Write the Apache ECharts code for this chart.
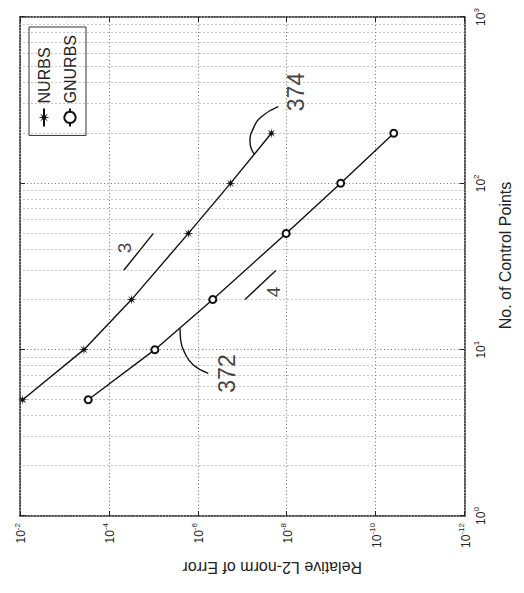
<!DOCTYPE html>
<html><head><meta charset="utf-8">
<script src="https://cdn.jsdelivr.net/npm/echarts@6/dist/echarts.min.js"></script>
<style>
html,body{margin:0;padding:0;width:524px;height:593px;overflow:hidden;background:#fff;}
#chart{position:absolute;left:0;top:0;width:593px;height:524px;transform-origin:0 0;transform:translate(0,593px) rotate(-90deg);}
</style></head><body><div id="chart"></div>
<script>
// ---- data ----
const controlPoints = [5, 10, 20, 50, 100, 200];
const nurbsError = [8.7e-3, 3.65e-4, 3.1e-5, 1.63e-6, 1.84e-7, 2.21e-8];
const gnurbsError = [2.92e-4, 9.25e-6, 4.6e-7, 1.03e-8, 6.1e-10, 3.9e-11];
const seriesNames = ['NURBS', 'GNURBS'];
const xTickValues = [1, 10, 100, 1000];
const yTickValues = [1e-12, 1e-10, 1e-8, 1e-6, 1e-4, 1e-2];
const xMinorGrid = [2,3,4,5,6,7,8,9,20,30,40,50,60,70,80,90,200,300,400,500,600,700,800,900];
const slope3Line = [[30, 4.63e-5], [50, 1.0e-5]];
const slope4Line = [[20, 8.7e-8], [30, 1.73e-8]];
const leader372 = [[13.45, 2.51e-6], [11.43, 2.43e-6], [9.51, 1.94e-6], [8.09, 1.26e-6], [7.21, 5.8e-7]];
const leader374 = [[150, 5.4e-8], [178, 6.7e-8], [214, 5.64e-8], [252, 3.65e-8], [289, 1.55e-8]];
const annotationTexts = ['372', '374', '3', '4'];
const annotationPoints = [[7.19, 2.26e-7], [354, 6.18e-9], [40.9, 4.35e-5], [22.2, 2.03e-8]];
const annotationSizes = [23, 23, 19, 19];

const pair = (xs, ys) => xs.map((x, i) => [x, ys[i]]);
const supFmt = v => '{b|10}{s|' + Math.round(Math.log10(v)) + '}';
const richLab = {
  b: {fontSize: 12, lineHeight: 14, padding: [6, 0, 0, 0], verticalAlign: 'bottom', color: '#222', fontFamily: 'Liberation Sans'},
  s: {fontSize: 8, lineHeight: 10, verticalAlign: 'top', color: '#222', fontFamily: 'Liberation Sans'}
};
const frameLine = {show: true, lineStyle: {color: '#222', width: 1.5, type: [1.5, 1.5]}};
const gridLine = {show: true, lineStyle: {color: '#6f6f6f', width: 1, type: [1, 2.5]}};
const tickIn = {show: true, inside: true, length: 5, lineStyle: {color: '#222'}};
const narrow = "'Liberation Sans Narrow', 'Arial Narrow', 'Liberation Sans', sans-serif";
const asterisk = 'path://M0,-10 L1.2,-2.9 L7.1,-7.1 L2.9,-1.2 L10,0 L2.9,1.2 L7.1,7.1 L1.2,2.9 L0,10 L-1.2,2.9 L-7.1,7.1 L-2.9,1.2 L-10,0 L-2.9,-1.2 L-7.1,-7.1 L-1.2,-2.9 Z';

const chart = echarts.init(document.getElementById('chart'), null, {renderer: 'svg'});
const annoLine = (data, smooth) => ({
  type: 'line', data: data, smooth: smooth, symbol: 'none', silent: true, z: 4,
  lineStyle: {color: '#111', width: 1.4}, tooltip: {show: false}
});
chart.setOption({
  animation: false,
  backgroundColor: '#fff',
  textStyle: {fontFamily: 'Liberation Sans', color: '#222'},
  grid: {left: 77, right: 17, top: 20, bottom: 59.5},
  legend: {
    data: seriesNames, orient: 'vertical', right: 27, top: 29,
    padding: [7, 8, 8, 8], itemWidth: 18, itemHeight: 14, itemGap: 10,
    borderColor: '#333', borderWidth: 1, backgroundColor: '#fff',
    textStyle: {fontSize: 16, color: '#222', fontFamily: 'Liberation Sans'}
  },
  xAxis: [{
    type: 'log', min: 1, max: 1000, position: 'bottom',
    name: 'No. of Control Points', nameLocation: 'middle', nameGap: 33,
    nameTextStyle: {fontSize: 16, color: '#222', padding: [0, 0, 0, 22]},
    axisLine: frameLine, axisTick: tickIn, splitLine: gridLine,
    axisLabel: {formatter: supFmt, rich: richLab, margin: 8,
      customValues: xTickValues}
  }, {
    type: 'log', min: 1, max: 1000, position: 'top',
    axisLine: frameLine, axisTick: tickIn, axisLabel: {show: false}, splitLine: {show: false}
  }],
  yAxis: [{
    type: 'log', min: 1e-12, max: 1e-2, interval: 2, position: 'left',
    name: 'Relative L2-norm of Error', nameLocation: 'middle', nameGap: 43,
    nameTextStyle: {fontSize: 16, color: '#222', padding: [0, 60, 0, 0]},
    axisLine: frameLine, axisTick: tickIn, splitLine: gridLine,
    axisLabel: {formatter: supFmt, rich: richLab, margin: 7}
  }, {
    type: 'log', min: 1e-12, max: 1e-2, interval: 2, position: 'right',
    axisLine: frameLine, axisTick: tickIn, axisLabel: {show: false}, splitLine: {show: false}
  }],
  series: [
    {
      name: 'minor-grid', type: 'line', data: [], silent: true, z: 1,
      markLine: {silent: true, symbol: 'none', label: {show: false},
        lineStyle: {color: '#8a8a8a', width: 1, type: [1, 3]},
        data: xMinorGrid.map(v => ({xAxis: v}))}
    },
    {
      name: seriesNames[0], type: 'line', data: pair(controlPoints, nurbsError), z: 5,
      symbol: asterisk, symbolSize: 10,
      lineStyle: {color: '#111', width: 1.4}, itemStyle: {color: '#111'}
    },
    {
      name: seriesNames[1], type: 'line', data: pair(controlPoints, gnurbsError), z: 5,
      symbol: 'emptyCircle', symbolSize: 7,
      lineStyle: {color: '#111', width: 1.4}, itemStyle: {color: '#111', borderWidth: 2}
    },
    annoLine(slope3Line, false),
    annoLine(slope4Line, false),
    annoLine(leader372, 0.5),
    annoLine(leader374, 0.5),
    {
      type: 'scatter', silent: true, z: 6, symbolSize: 0.1, itemStyle: {color: 'rgba(0,0,0,0)'},
      data: annotationPoints.map((p, i) => ({
        value: p,
        label: {show: true, position: 'inside', formatter: annotationTexts[i],
          fontSize: annotationSizes[i], fontFamily: narrow, color: '#111'}
      }))
    }
  ]
});
</script></body></html>
